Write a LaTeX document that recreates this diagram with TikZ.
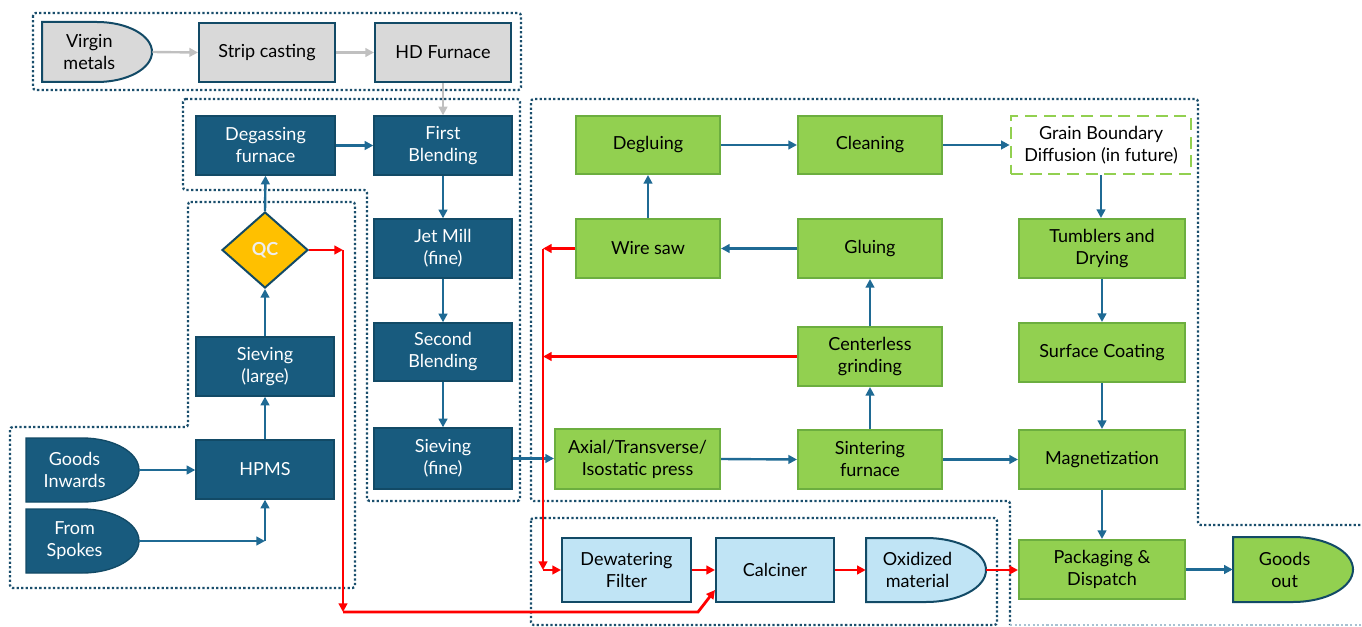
\documentclass[tikz,border=0pt]{standalone}
\usepackage{fontspec}
\setmainfont{Lato}
\usetikzlibrary{arrows.meta,shapes.geometric}
\definecolor{dblue}{HTML}{185B7E}
\definecolor{dborder}{HTML}{124A66}
\definecolor{lgreen}{HTML}{92D050}
\definecolor{gborder}{HTML}{6CAE3F}
\definecolor{lblue}{HTML}{C0E4F5}
\definecolor{gfill}{HTML}{D9D9D9}
\definecolor{qcy}{HTML}{FFC000}
\definecolor{frm}{HTML}{1A4E6C}
\definecolor{frmlight}{HTML}{A8C2D2}
\definecolor{arblue}{HTML}{1F6A94}
\definecolor{garrow}{HTML}{C0C0C0}
\newcommand\bx[7]{%
  \node[#6, minimum width={(#4-#2)*0.75pt}, minimum height={(#5-#3)*0.75pt}] (#1) at ({(#2+#4)/2},{(#3+#5)/2}) {#7};}
\newcommand\dl[7]{%
  \path[#6] (#2,#3) -- ({(#2+#4)/2},#3) arc[start angle=-90,end angle=90,x radius={(#4-#2)/2},y radius={(#5-#3)/2}] -- (#2,#5) -- cycle;
  \node[inner sep=0pt, minimum width={(#4-#2)*0.75pt}, minimum height={(#5-#3)*0.75pt}] (#1) at ({(#2+#4)/2},{(#3+#5)/2}) {};
  \node[txt] at ({#2+0.43*(#4-#2)},{(#3+#5)/2}) {#7};}
\tikzset{
  txt/.style={align=center, font=\fontsize{13.5}{16.5}\selectfont, text=black, inner sep=0pt},
  bluebox/.style={txt, draw=dborder, fill=dblue, line width=1pt, text=white},
  greenbox/.style={txt, draw=gborder, fill=lgreen, line width=1.5pt},
  graybox/.style={txt, draw=dborder, fill=gfill, line width=1.5pt},
  lbbox/.style={txt, draw=dborder, fill=lblue, line width=1.5pt},
  dashbox/.style={txt, draw=lgreen, fill=white, line width=2pt, dash pattern=on 9pt off 5pt},
  blueshape/.style={draw=dborder, fill=dblue, line width=1pt},
  grayshape/.style={draw=dborder, fill=gfill, line width=1.5pt},
  lbshape/.style={draw=dborder, fill=lblue, line width=1.5pt},
  greenshape/.style={draw=dborder, fill=lgreen, line width=1.5pt},
  ar/.style={-{Triangle[length=6.5pt,width=6.5pt]}, line width=1.8pt, draw=arblue},
  gar/.style={-{Triangle[length=6.5pt,width=6.5pt]}, line width=1.8pt, draw=garrow},
  rar/.style={-{Triangle[length=6.5pt,width=6.5pt]}, line width=2.1pt, draw=red},
  dotframe/.style={draw=frm, line width=1.7pt, dash pattern=on 1.7pt off 1.7pt, rounded corners=2pt},
}
\begin{document}
\begin{tikzpicture}[x=0.75pt,y=-0.75pt]
\useasboundingbox (0,0) rectangle (1362,627);
% frames
\draw[dotframe] (33,13) rectangle (521,90);
\draw[dotframe] (183,99) -- (520,99) -- (520,501) -- (367,501) -- (367,190) -- (183,190) -- cycle;
\draw[dotframe] (188,202) -- (355,202) -- (355,588) -- (10,588) -- (10,427) -- (188,427) -- cycle;
\draw[dotframe] (1365,525) -- (1198,525) -- (1198,99) -- (531,99) -- (531,501) -- (1010,501) -- (1010,625);
\draw[draw=frmlight, line width=1.7pt, dash pattern=on 1.7pt off 1.7pt] (1010,625) -- (1365,625);
\draw[dotframe] (531,518) rectangle (997,625);
% top row
\dl{vm}{42}{22}{152}{82}{grayshape}{Virgin\\metals}
\bx{sc}{199}{23}{335}{82}{graybox}{Strip casting}
\bx{hd}{375}{23}{511}{82}{graybox}{HD Furnace}
% blue column
\bx{deg}{196}{116}{335}{175}{bluebox}{Degassing\\furnace}
\bx{fb}{374}{116}{512}{175}{bluebox}{First\\Blending}
\bx{jm}{374}{219}{512}{278}{bluebox}{Jet Mill\\(fine)}
\bx{sb}{374}{323}{512}{381}{bluebox}{Second\\Blending}
\bx{sf}{374}{428}{512}{489}{bluebox}{Sieving\\(fine)}
\bx{sl}{196}{337}{334}{396}{bluebox}{Sieving\\(large)}
\bx{hp}{196}{440}{334}{499}{bluebox}{HPMS}
\node[diamond, draw=dborder, fill=qcy, line width=1.5pt, minimum width=64.5pt, minimum height=57pt, inner sep=0pt, aspect=1.13, font=\fontsize{13.5}{16.5}\selectfont\bfseries, text=white!93!black] (qc) at (265,250) {QC};
\dl{gi}{26}{438}{139}{502}{blueshape}{\color{white}Goods\\\color{white}Inwards}
\dl{fsp}{26}{509}{139}{573}{blueshape}{\color{white}From\\\color{white}Spokes}
% green
\bx{dg}{576}{116}{720}{174}{greenbox}{Degluing}
\bx{cl}{798}{116}{942}{174}{greenbox}{Cleaning}
\bx{gbd}{1011}{116}{1191}{174}{dashbox}{Grain Boundary\\Diffusion (in future)}
\bx{ws}{576}{219}{720}{278}{greenbox}{Wire saw}
\bx{gl}{798}{219}{942}{278}{greenbox}{Gluing}
\bx{tb}{1019}{219}{1185}{278}{greenbox}{Tumblers and\\Drying}
\bx{cg}{798}{327}{942}{386}{greenbox}{Centerless\\grinding}
\bx{sc2}{1019}{323}{1185}{382}{greenbox}{Surface Coating}
\bx{ax}{555}{429}{720}{489}{greenbox}{Axial/Transverse/\\Isostatic press}
\bx{si}{798}{430}{942}{489}{greenbox}{Sintering\\furnace}
\bx{mg}{1019}{430}{1185}{489}{greenbox}{Magnetization}
\bx{pk}{1019}{540}{1185}{599}{greenbox}{Packaging \&\\Dispatch}
\dl{go}{1233}{537}{1353}{602}{greenshape}{Goods\\out}
% light blue
\bx{dw}{562}{538}{691}{602}{lbbox}{Dewatering\\Filter}
\bx{ca}{716}{538}{834}{602}{lbbox}{Calciner}
\dl{ox}{866}{538}{986}{602}{lbshape}{Oxidized\\material}
% gray arrows
\draw[gar] (vm.east) -- (sc.west);
\draw[gar] (sc.east) -- (hd.west);
\draw[gar] (hd.south) -- (fb.north);
% blue arrows
\draw[ar] (gi.east) -- (gi.east -| hp.west);
\coordinate (fsc) at (265,541);
\draw[ar] (fsp.east) -- (fsc);
\draw[ar] (fsc) -- (hp.south);
\draw[ar] (hp.north) -- (sl.south);
\draw[ar] (sl.north) -- (qc.south);
\draw[ar] (qc.north) -- (deg.south);
\draw[ar] (deg.east) -- (fb.west);
\draw[ar] (fb.south) -- (jm.north);
\draw[ar] (jm.south) -- (sb.north);
\draw[ar] (sb.south) -- (sf.north);
\draw[ar] (sf.east) -- (sf.east -| ax.west);
\draw[ar] (ax.east) -- (si.west);
\draw[ar] (si.east) -- (mg.west);
\draw[ar] (si.north) -- (cg.south);
\draw[ar] (cg.north) -- (gl.south);
\draw[ar] (gl.west) -- (ws.east);
\draw[ar] (ws.north) -- (dg.south);
\draw[ar] (dg.east) -- (cl.west);
\draw[ar] (cl.east) -- (gbd.west);
\draw[ar] (gbd.south) -- (gbd.south |- tb.north);
\draw[ar] (tb.south) -- (sc2.north);
\draw[ar] (sc2.south) -- (mg.north);
\draw[ar] (mg.south) -- (pk.north);
\draw[ar] (pk.east) -- (pk.east -| go.west);
% red arrows
\coordinate (r1) at (343,250);
\coordinate (r2) at (343,612);
\coordinate (r3) at (698,612);
\coordinate (r4) at (698,590);
\draw[rar] (qc.east) -- (r1);
\draw[rar] (r1) -- (r2);
\draw[rar] (r2) -- (r3) -- (r4 -| ca.west);
\coordinate (rw) at (543,248.5);
\coordinate (rc) at (543,356.5);
\coordinate (rd) at (543,570);
\draw[rar] (ws.west) -- (rw);
\draw[rar] (cg.west) -- (rc);
\draw[rar] (rw) -- (rd);
\draw[rar] (rd) -- (dw.west);
\draw[rar] (dw.east) -- (ca.west);
\draw[rar] (ca.east) -- (ox.west);
\draw[rar] (ox.east) -- (ox.east -| pk.west);
\end{tikzpicture}
\end{document}
